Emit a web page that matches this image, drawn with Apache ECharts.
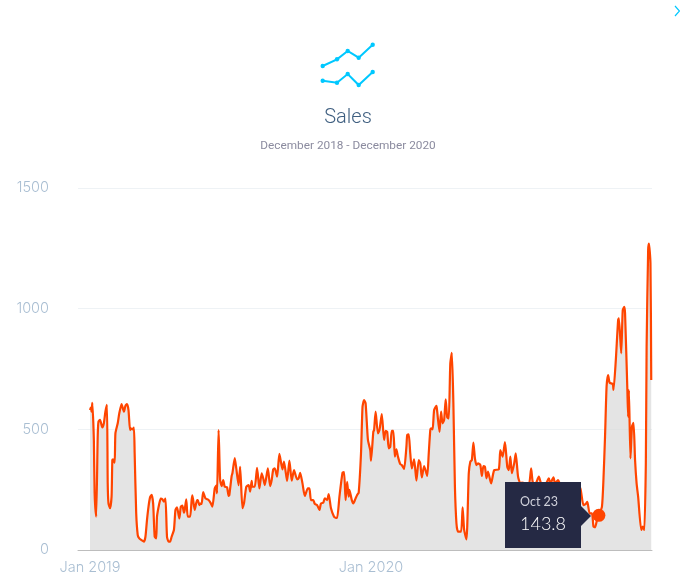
<!DOCTYPE html>
<html>
<head>
<meta charset="utf-8">
<title>Sales</title>
<script src="https://cdn.jsdelivr.net/npm/echarts@6/dist/echarts.min.js"></script>
<style>
  html, body { margin: 0; padding: 0; background: #fff; }
  #chart { width: 680px; height: 583px; }
</style>
</head>
<body>
<div id="chart"></div>
<script>
// days since 1 Jan 2019
var saleDays = [0,1,2,3,5,6,8,10,11,13,16,18,20,22,23,24,26,28,29,30,32,33,36,38,41,44,46,48,50,52,53,55,57,58,60,62,64,67,70,72,74,76,78,80,82,84,86,87,90,92,94,96,98,100,102,104,106,109,111,113,116,118,120,122,123,125,127,130,132,133,136,139,140,142,144,145,147,150,154,157,159,162,164,165,167,169,171,173,175,178,180,181,184,185,188,190,193,195,198,200,203,206,208,210,211,214,217,220,223,225,227,231,234,236,238,240,243,246,250,252,256,259,262,265,269,271,273,276,279,283,285,287,290,292,295,298,300,303,305,308,310,313,317,319,321,324,328,330,332,334,336,337,340,342,345,347,349,352,354,356,358,361,364,365,368,369,371,374,376,379,382,384,386,388,390,392,394,396,398,400,403,405,408,411,412,414,416,418,421,424,427,429,431,434,438,440,442,443,445,447,450,451,454,456,458,460,462,464,466,468,470,472,474,476,478,482,484,486,489,492,494,496,498,500,502,504,507,509,511,513,515,517,521,525,531,533,536,539,542,544,546,548,551,553,556,559,561,565,570,573,575,578,583,586,591,596,598,602,604,608,611,615,619,624,628,632,637,641,644,646,649,652,654,656,659,661,665,667,669,671,673,675,679,680,683,686,687,690,692,694,695,698,699,700,702,704,706,708,710,712,716,718,720,722,723,725,726,728,729];
var saleValues = [580,590,573,610,456,235,138,470,532,539,508,525,573,601,276,193,173,221,373,376,362,483,525,566,605,573,597,605,580,497,504,500,507,400,152,62,48,41,35,55,124,180,218,229,193,55,48,138,193,213,210,200,213,55,35,35,55,83,166,177,131,180,184,155,166,210,138,138,207,226,166,207,207,186,193,191,240,214,207,193,180,255,267,235,497,290,265,290,262,260,224,228,307,318,381,338,269,345,173,193,262,269,242,287,262,262,340,255,318,297,269,338,265,290,334,338,304,398,334,366,286,370,287,331,293,297,320,276,224,255,255,207,207,191,186,166,193,196,214,207,232,173,138,134,133,221,320,323,207,282,221,249,207,193,214,228,238,400,594,621,608,456,414,370,490,497,573,483,497,563,456,494,490,421,428,494,494,387,417,387,356,352,336,428,476,479,400,338,376,287,373,359,301,348,307,400,497,504,500,580,597,573,489,573,525,539,624,550,545,773,817,608,262,110,76,76,177,83,44,318,366,373,445,380,352,359,352,307,348,345,297,325,276,331,334,414,387,447,345,331,387,318,359,400,304,276,279,276,269,338,283,269,304,276,269,297,276,301,276,290,269,262,269,255,273,276,255,186,191,200,152,152,97,94,131,143.8,180,297,470,677,725,693,688,663,787,953,960,815,994,1008,981,663,552,663,380,511,527,373,276,221,83,97,83,359,842,1243,1270,1188,704];

var yTicks = [0, 500, 1000, 1500];
var xTickDays = [0, 365];
var xTickLabels = ['Jan 2019', 'Jan 2020'];

var tipDay = 661;
var tipDate = 'Oct 23';
var tipValue = 143.8;

var iconLines = [
  [[322.7, 66], [337, 59.3], [347.7, 51], [358.7, 57.7], [372.7, 44.7]],
  [[322.7, 80.7], [337, 82.7], [347.7, 74], [358.7, 85], [372.7, 72]]
];

var chart = echarts.init(document.getElementById('chart'));

var pairs = saleDays.map(function (d, i) { return [d, saleValues[i]]; });

// the little chart icon above the title
var iconParts = [];
iconLines.forEach(function (pts) {
  iconParts.push({
    type: 'polyline',
    shape: { points: pts },
    style: { stroke: '#00c8ff', lineWidth: 2, fill: null }
  });
  pts.forEach(function (p) {
    iconParts.push({
      type: 'circle',
      shape: { cx: p[0], cy: p[1], r: 2.2 },
      style: { fill: '#00c8ff' }
    });
  });
});
iconParts.push({
  type: 'polyline',
  shape: { points: [[675, 6], [679.5, 11], [675, 16]] },
  style: { stroke: '#00c8ff', lineWidth: 1.2, fill: null }
});

chart.setOption({
  animation: false,
  title: [{
    text: 'Sales',
    left: 343,
    top: 103,
    textAlign: 'center',
    textStyle: { fontFamily: 'Roboto', fontSize: 20, fontWeight: 300, color: '#3f5f80' }
  }, {
    text: 'December 2018 - December 2020',
    left: 343,
    top: 135,
    textAlign: 'center',
    textStyle: { fontFamily: 'Roboto', fontSize: 11.8, fontWeight: 400, color: '#8b8b9f' }
  }],
  grid: { left: 78, right: 28, top: 188, bottom: 33 },
  tooltip: {
    trigger: 'item',
    alwaysShowContent: true,
    transitionDuration: 0,
    padding: 0,
    borderWidth: 0,
    backgroundColor: 'transparent',
    extraCssText: 'box-shadow:none;border-radius:0;',
    position: function (point) {
      return [point[0] - 94, point[1] - 33];
    },
    formatter: function () {
      return '<div style="position:relative;width:76px;height:66px;background:#252944;font-family:Lato,sans-serif;color:#fff;">' +
        '<div style="position:absolute;left:15px;top:13px;font-size:12.5px;line-height:14px;color:#cfd0da;">' + tipDate + '</div>' +
        '<div style="position:absolute;left:15px;top:29px;font-size:18px;line-height:24px;font-weight:300;">' + tipValue + '</div>' +
        '<div style="position:absolute;left:76px;top:24px;width:0;height:0;border-top:10px solid transparent;border-bottom:10px solid transparent;border-left:10px solid #252944;"></div>' +
        '</div>';
    }
  },
  xAxis: {
    type: 'value',
    min: -15.6,
    max: 730,
    splitLine: { show: false },
    axisTick: { show: false },
    axisLine: { show: true, onZero: false, lineStyle: { color: '#bdbdbd', width: 1 } },
    axisLabel: {
      customValues: xTickDays,
      margin: 10,
      fontFamily: 'Inter',
      fontSize: 14.5,
      fontWeight: 300,
      color: '#a9bed2',
      formatter: function (v) { return xTickLabels[xTickDays.indexOf(v)]; }
    }
  },
  yAxis: {
    type: 'value',
    min: yTicks[0],
    max: yTicks[yTicks.length - 1],
    interval: 500,
    axisLine: { show: false },
    axisTick: { show: false },
    splitLine: { lineStyle: { color: '#eef2f5', width: 1 } },
    axisLabel: {
      margin: 29,
      fontFamily: 'Inter',
      fontSize: 14.5,
      fontWeight: 300,
      color: '#a9bed2',
      formatter: function (v) { return String(v); }
    }
  },
  series: [{
    name: 'Sales',
    type: 'line',
    data: pairs,
    smooth: 0.2,
    showSymbol: false,
    silent: true,
    lineStyle: { color: '#ff4500', width: 2.2 },
    areaStyle: { color: '#d9d9d9', opacity: 0.72 }
  }, {
    name: 'Selected',
    type: 'scatter',
    data: [[tipDay, tipValue]],
    symbolSize: 13,
    itemStyle: { color: '#ff4500', opacity: 1 },
    z: 5
  }],
  graphic: iconParts
});

chart.dispatchAction({ type: 'showTip', seriesIndex: 1, dataIndex: 0 });
</script>
</body>
</html>
